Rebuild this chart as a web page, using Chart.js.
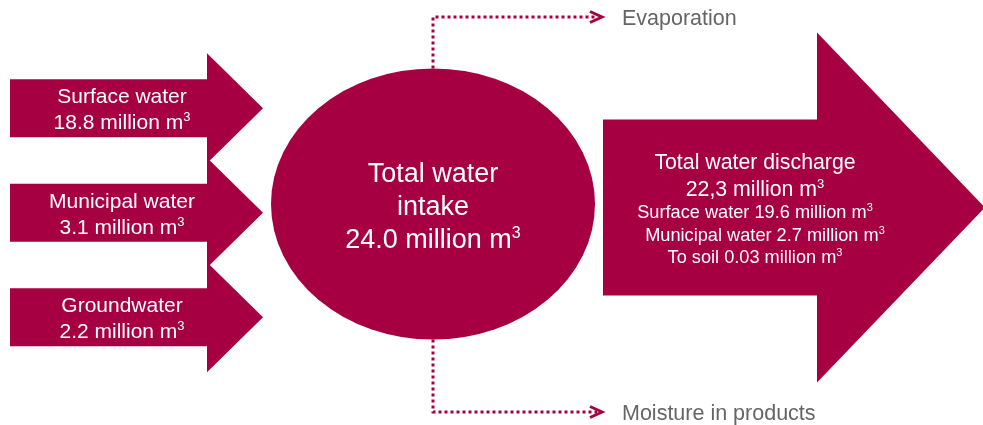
<!DOCTYPE html>
<html><head><meta charset="utf-8">
<script src="https://cdn.jsdelivr.net/npm/chart.js@4/dist/chart.umd.min.js"></script>
<style>html,body{margin:0;padding:0;background:#fff;}#wrap{width:983px;height:425px;position:relative;}</style>
</head><body><div id="wrap"><canvas id="c"></canvas></div>
<script>
// ---- data ----
const inflowNames = ['Surface water', 'Municipal water', 'Groundwater'];
const inflowValues = [18.8, 3.1, 2.2];
const intakeLabel = ['Total water', 'intake'];
const intakeTotal = 24.0;
const dischargeTitle = 'Total water discharge';
const dischargeTotal = 22.3;
const dischargeNames = ['Surface water', 'Municipal water', 'To soil'];
const dischargeValues = [19.6, 2.7, 0.03];
const lossLabels = ['Evaporation', 'Moisture in products'];
const unitText = 'million m';
const unitSup = '3';

// ---- layout / style ----
const CRIMSON = '#A60042';
const GREY = '#656565';
const FONT = '"Liberation Sans", Arial, sans-serif';
const L = {
  inArrow: {x0: 10, x1: 207, tip: 263, bodyH: 29, headH: 55, cy: [108.3, 212.8, 317.3], textX: 122, line1: -5, line2: 21, size: 21},
  ellipse: {cx: 433, cy: 204, rx: 162, ry: 135.5, baselines: [181.7, 215, 248.3], size: 27},
  outArrow: {x0: 603, x1: 817, tip: 985, cy: 207.5, bodyH: 88, headH: 175, textX: 755,
             titleBase: 169, totalBase: 195.7, titleSize: 21.3, lineBases: [217.7, 240.7, 263.3], lineDx: [0, 10, 0], lineSize: 18.2},
  loss: {topY: 17, botY: 412, endX: 597, chevTip: 602, chevBack: 590, chevH: 5.5, textX: 622, baselines: [25, 420], size: 21.5}
};

function fmt(v) { const s = String(v); return s.indexOf('.') >= 0 ? s : v.toFixed(1); }

function drawUnitText(ctx, prefix, cx, base, size, align) {
  ctx.font = size + 'px ' + FONT;
  const main = prefix + unitText;
  const wMain = ctx.measureText(main).width;
  const supSize = Math.round(size * 0.6);
  ctx.font = supSize + 'px ' + FONT;
  const wSup = ctx.measureText(unitSup).width;
  const x = align === 'left' ? cx : cx - (wMain + wSup) / 2;
  ctx.textAlign = 'left';
  ctx.font = size + 'px ' + FONT;
  ctx.fillText(main, x, base);
  ctx.font = supSize + 'px ' + FONT;
  ctx.fillText(unitSup, x + wMain, base - size * 0.38);
}
function drawCentered(ctx, text, cx, base, size) {
  ctx.font = size + 'px ' + FONT;
  ctx.textAlign = 'center';
  ctx.fillText(text, cx, base);
}

const E = L.ellipse, LS = L.loss;
const dotted = {showLine: true, borderColor: CRIMSON, borderWidth: 3, borderDash: [3, 3], borderCapStyle: 'butt', pointRadius: 0, fill: false};
const chev = {showLine: true, borderColor: CRIMSON, borderWidth: 3, borderJoinStyle: 'miter', pointRadius: 0, fill: false};

const diagram = {
  id: 'diagram',
  beforeDatasetsDraw(chart) {
    const ctx = chart.ctx, sx = chart.scales.x, sy = chart.scales.y;
    const X = v => sx.getPixelForValue(v), Y = v => sy.getPixelForValue(v);
    ctx.save();
    ctx.fillStyle = CRIMSON;
    function arrow(a, cy) {
      ctx.beginPath();
      ctx.moveTo(X(a.x0), Y(cy - a.bodyH));
      ctx.lineTo(X(a.x1), Y(cy - a.bodyH));
      ctx.lineTo(X(a.x1), Y(cy - a.headH));
      ctx.lineTo(X(a.tip), Y(cy));
      ctx.lineTo(X(a.x1), Y(cy + a.headH));
      ctx.lineTo(X(a.x1), Y(cy + a.bodyH));
      ctx.lineTo(X(a.x0), Y(cy + a.bodyH));
      ctx.closePath();
      ctx.fill();
    }
    inflowNames.forEach((n, i) => arrow(L.inArrow, L.inArrow.cy[i]));
    arrow(L.outArrow, L.outArrow.cy);
    ctx.beginPath();
    ctx.ellipse(X(E.cx), Y(E.cy), X(E.cx + E.rx) - X(E.cx), Y(E.cy + E.ry) - Y(E.cy), 0, 0, Math.PI * 2);
    ctx.fill();
    ctx.restore();
  },
  afterDatasetsDraw(chart) {
    const ctx = chart.ctx, sx = chart.scales.x, sy = chart.scales.y;
    const X = v => sx.getPixelForValue(v), Y = v => sy.getPixelForValue(v);
    ctx.save();
    ctx.fillStyle = '#ffffff';
    ctx.textBaseline = 'alphabetic';
    const A = L.inArrow;
    inflowNames.forEach((n, i) => {
      drawCentered(ctx, n, X(A.textX), Y(A.cy[i] + A.line1), A.size);
      drawUnitText(ctx, fmt(inflowValues[i]) + ' ', X(A.textX), Y(A.cy[i] + A.line2), A.size);
    });
    intakeLabel.forEach((t, i) => drawCentered(ctx, t, X(E.cx), Y(E.baselines[i]), E.size));
    drawUnitText(ctx, fmt(intakeTotal) + ' ', X(E.cx), Y(E.baselines[2]), E.size);
    const O = L.outArrow;
    drawCentered(ctx, dischargeTitle, X(O.textX), Y(O.titleBase), O.titleSize);
    drawUnitText(ctx, fmt(dischargeTotal).replace('.', ',') + ' ', X(O.textX), Y(O.totalBase), O.titleSize);
    dischargeNames.forEach((n, i) => {
      drawUnitText(ctx, n + ' ' + fmt(dischargeValues[i]) + ' ', X(O.textX + O.lineDx[i]), Y(O.lineBases[i]), O.lineSize);
    });
    ctx.fillStyle = GREY;
    ctx.textAlign = 'left';
    ctx.font = LS.size + 'px ' + FONT;
    lossLabels.forEach((t, i) => ctx.fillText(t, X(LS.textX), Y(LS.baselines[i])));
    ctx.restore();
  }
};

new Chart(document.getElementById('c'), {
  type: 'scatter',
  data: {
    datasets: [
      Object.assign({data: [{x: E.cx, y: E.cy - E.ry}, {x: E.cx, y: LS.topY}, {x: LS.endX, y: LS.topY}]}, dotted),
      Object.assign({data: [{x: E.cx, y: E.cy + E.ry}, {x: E.cx, y: LS.botY}, {x: LS.endX, y: LS.botY}]}, dotted),
      Object.assign({data: [{x: LS.chevBack, y: LS.topY - LS.chevH}, {x: LS.chevTip, y: LS.topY}, {x: LS.chevBack, y: LS.topY + LS.chevH}]}, chev),
      Object.assign({data: [{x: LS.chevBack, y: LS.botY - LS.chevH}, {x: LS.chevTip, y: LS.botY}, {x: LS.chevBack, y: LS.botY + LS.chevH}]}, chev)
    ]
  },
  options: {
    responsive: true, maintainAspectRatio: false, animation: false, events: [],
    layout: {padding: 0},
    plugins: {legend: {display: false}, tooltip: {enabled: false}},
    scales: {
      x: {type: 'linear', min: 0, max: 983, display: false},
      y: {type: 'linear', min: 0, max: 425, reverse: true, display: false}
    }
  },
  plugins: [diagram]
});
</script>
</body></html>
